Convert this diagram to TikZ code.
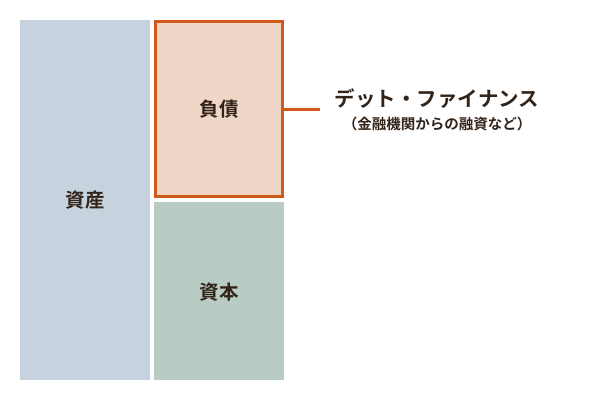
\documentclass[tikz,border=0pt]{standalone}
\usepackage{fontspec}
\newfontfamily\jp{Noto Sans CJK JP Bold}
\definecolor{asset}{HTML}{C6D2DE}
\definecolor{debtfill}{HTML}{F0D6C6}
\definecolor{debtline}{HTML}{D05A1C}
\definecolor{equity}{HTML}{B8CCC4}
\definecolor{txt}{HTML}{33241A}
\tikzset{
  blocklabel/.style={font=\jp\fontsize{19.5}{19.5}\selectfont, text=txt},
}
\begin{document}
\begin{tikzpicture}[x=1pt,y=-1pt]
\useasboundingbox (0,0) rectangle (600,400);
\fill[white] (0,0) rectangle (600,400);
\fill[asset] (20,20) rectangle (150,380);
\fill[equity] (154,202) rectangle (284,380);
\draw[debtline, fill=debtfill, line width=3pt] (155.5,21.5) rectangle (282.5,196.5);
\node[blocklabel] (asset) at (85,200) {資産};
\node[blocklabel] (debt) at (219,109) {負債};
\node[blocklabel] (eq) at (219,292) {資本};
\coordinate (debtR) at (284,109);
\coordinate (lineEnd) at (320,109);
\draw[debtline, line width=3pt] (debtR) -- (lineEnd);
\node[font=\jp\fontsize{20.5}{20.5}\selectfont, text=txt] (df) at (437,99) {デット・ファイナンス};
\node[font=\jp\fontsize{14.5}{14.5}\selectfont, text=txt] (sub) at (437,124) {（金融機関からの融資など）};
\end{tikzpicture}
\end{document}
